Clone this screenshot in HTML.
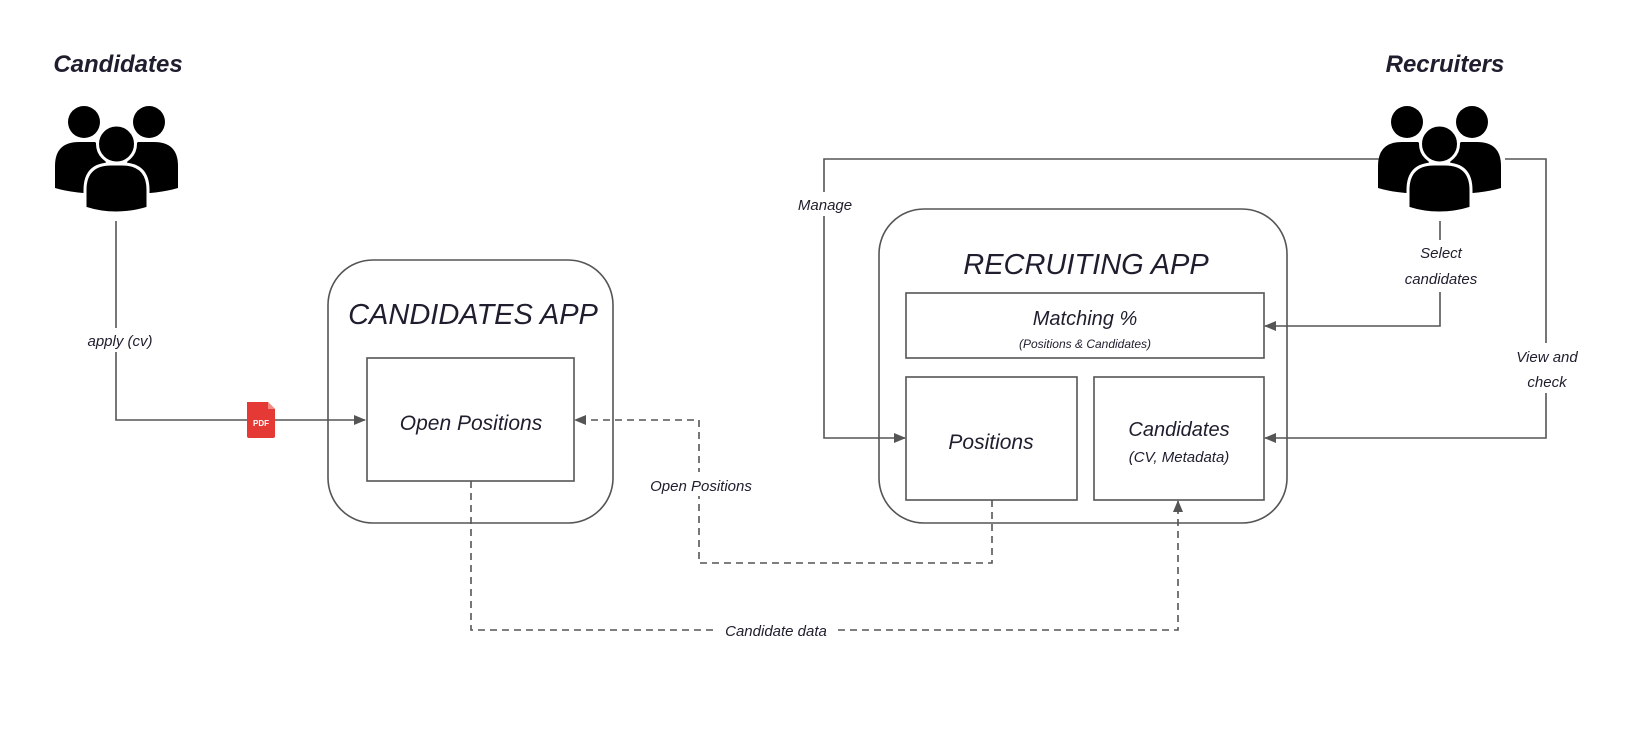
<!DOCTYPE html>
<html><head><meta charset="utf-8"><style>
html,body{margin:0;padding:0;background:#fff;}
svg{display:block;}
text{font-family:"Liberation Sans",sans-serif;font-style:italic;fill:#1e1e2e;}
</style></head><body>
<svg width="1628" height="749" viewBox="0 0 1628 749" xmlns="http://www.w3.org/2000/svg">
<defs>
<marker id="a" markerWidth="12" markerHeight="10" refX="11" refY="5" orient="auto" markerUnits="userSpaceOnUse">
<path d="M0,0 L12,5 L0,10 Z" fill="#555"/></marker>
<g id="people">
<circle cx="29" cy="16" r="16" fill="#000"/>
<circle cx="94" cy="16" r="16" fill="#000"/>
<path d="M0,60 Q0,36 24,36 L40,36 Q52,46 52,70 L52,88 Q20,88 0,82 Z" fill="#000"/>
<path d="M123,60 Q123,36 99,36 L83,36 Q71,46 71,70 L71,88 Q103,88 123,82 Z" fill="#000"/>
<circle cx="61.5" cy="38" r="19" fill="#000" stroke="#fff" stroke-width="3"/>
<path d="M30,102 L30,84 Q30,58 56,58 L67,58 Q93,58 93,84 L93,102 Q61,112 30,102 Z" fill="#000" stroke="#fff" stroke-width="3"/>
</g>
</defs>
<g stroke="#555" stroke-width="1.6" fill="none">
<rect x="328" y="260" width="285" height="263" rx="45"/>
<rect x="367" y="358" width="207" height="123"/>
<rect x="879" y="209" width="408" height="314" rx="45"/>
<rect x="906" y="293" width="358" height="65"/>
<rect x="906" y="377" width="171" height="123"/>
<rect x="1094" y="377" width="170" height="123"/>
<path d="M116,221 L116,420 L365,420" marker-end="url(#a)"/>
<path d="M1380,159 L824,159 L824,438 L905,438" marker-end="url(#a)"/>
<path d="M1440,221 L1440,326 L1265,326" marker-end="url(#a)"/>
<path d="M1505,159 L1546,159 L1546,438 L1265,438" marker-end="url(#a)"/>
<path d="M992,500 L992,563 L699,563 L699,420 L575,420" stroke-dasharray="7,5" marker-end="url(#a)"/>
<path d="M471,481 L471,630 L1178,630 L1178,501" stroke-dasharray="7,5" marker-end="url(#a)"/>
</g>
<g fill="#fff">
<rect x="80" y="328" width="80" height="24"/>
<rect x="790" y="192" width="70" height="24"/>
<rect x="1396" y="240" width="90" height="52"/>
<rect x="1505" y="343" width="84" height="50"/>
<rect x="645" y="472" width="112" height="24"/>
<rect x="716" y="618" width="120" height="24"/>
</g>
<use href="#people" x="55" y="106"/>
<use href="#people" x="1378" y="106"/>
<path d="M247,402 L268,402 L275,409 L275,436 Q275,438 273,438 L249,438 Q247,438 247,436 Z" fill="#e53935"/>
<path d="M268,402 L268,409 L275,409 Z" fill="#f28b82"/>
<text x="261" y="426" text-anchor="middle" style="font-style:normal;font-weight:bold;font-size:8px;fill:#fff">PDF</text>
<g text-anchor="middle">
<text x="118" y="72" font-size="24" font-weight="bold">Candidates</text>
<text x="1445" y="72" font-size="24" font-weight="bold">Recruiters</text>
<text x="120" y="346" font-size="15">apply (cv)</text>
<text x="825" y="210" font-size="15">Manage</text>
<text x="1441" y="258" font-size="15">Select</text>
<text x="1441" y="284" font-size="15">candidates</text>
<text x="1547" y="362" font-size="15">View and</text>
<text x="1547" y="387" font-size="15">check</text>
<text x="701" y="491" font-size="15">Open Positions</text>
<text x="776" y="636" font-size="15">Candidate data</text>
<text x="473" y="324" font-size="29">CANDIDATES APP</text>
<text x="1086" y="274" font-size="29">RECRUITING APP</text>
<text x="471" y="430" font-size="21">Open Positions</text>
<text x="1085" y="325" font-size="20">Matching %</text>
<text x="1085" y="348" font-size="12">(Positions &amp; Candidates)</text>
<text x="991" y="449" font-size="21">Positions</text>
<text x="1179" y="436" font-size="20">Candidates</text>
<text x="1179" y="462" font-size="15">(CV, Metadata)</text>
</g>
</svg>
</body></html>
